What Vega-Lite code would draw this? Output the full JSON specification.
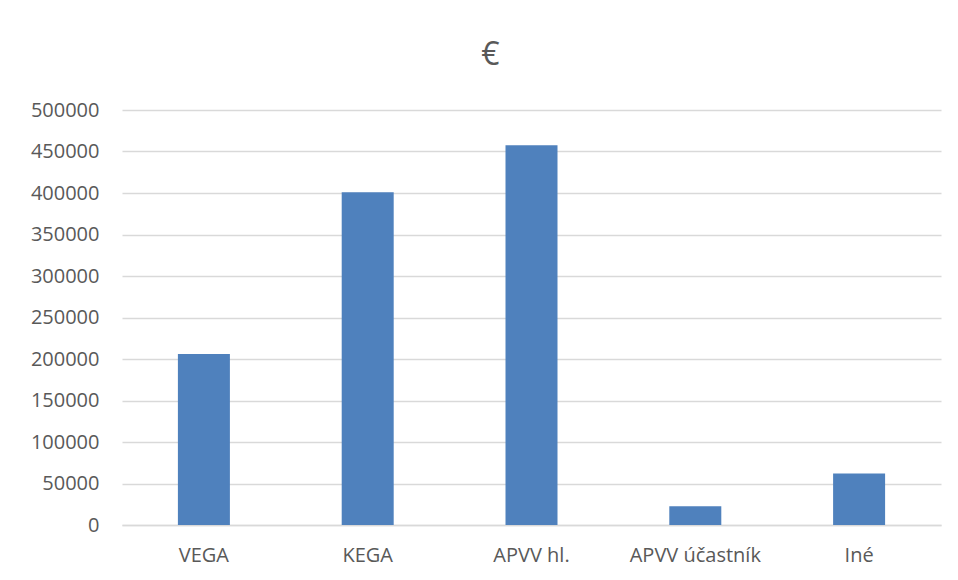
{
  "$schema": "https://vega.github.io/schema/vega-lite/v6.json",
  "autosize": "none",
  "width": 819,
  "height": 415,
  "padding": {"left": 122, "top": 110, "right": 17, "bottom": 55},
  "background": "white",
  "title": {
    "text": "€",
    "fontSize": 32,
    "font": "Open Sans",
    "fontWeight": "normal",
    "color": "#595959",
    "offset": 40,
    "dy": 12,
    "dx": -41
  },
  "data": {
    "values": [
      {"kategoria": "VEGA", "suma": 206000},
      {"kategoria": "KEGA", "suma": 401000},
      {"kategoria": "APVV hl.", "suma": 457500},
      {"kategoria": "APVV účastník", "suma": 22500},
      {"kategoria": "Iné", "suma": 62000}
    ]
  },
  "mark": {"type": "bar", "color": "#4f81bd", "size": 52},
  "encoding": {
    "x": {
      "field": "kategoria",
      "type": "nominal",
      "sort": null,
      "scale": {"paddingInner": 0, "paddingOuter": 0},
      "axis": {
        "title": null,
        "labelAngle": 0,
        "labelFont": "Open Sans",
        "labelFontSize": 20,
        "labelColor": "#595959",
        "labelPadding": 20,
        "ticks": false,
        "domainColor": "#d9d9d9",
        "domainWidth": 1.5,
        "grid": false
      }
    },
    "y": {
      "field": "suma",
      "type": "quantitative",
      "scale": {"domain": [0, 500000], "nice": false},
      "axis": {
        "title": null,
        "values": [0, 50000, 100000, 150000, 200000, 250000, 300000, 350000, 400000, 450000, 500000],
        "format": "d",
        "labelFont": "Open Sans",
        "labelFontSize": 20,
        "labelColor": "#595959",
        "labelPadding": 23,
        "ticks": false,
        "domain": false,
        "gridColor": "#d9d9d9",
        "gridWidth": 1.5
      }
    }
  },
  "config": {"view": {"stroke": null}}
}
